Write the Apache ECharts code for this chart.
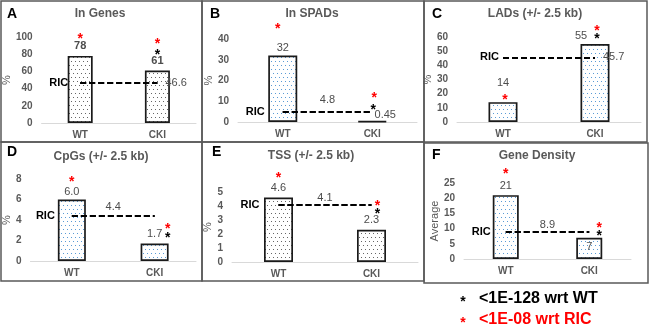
<!DOCTYPE html>
<html>

<head>
    <meta charset="utf-8">
    <script src="https://cdn.jsdelivr.net/npm/echarts@6/dist/echarts.min.js"></script>
    <style>
        html, body { margin: 0; padding: 0; background: #fff; }
        #main { width: 649px; height: 326px; }
    </style>
</head>

<body>
    <div id="main"></div>

    <script>
        // ---- data ----
        const categories = ['WT', 'CKI'];
        const panelLetters = ['A', 'B', 'C', 'D', 'E', 'F'];
        const panelTitles = ['In Genes', 'In SPADs', 'LADs (+/- 2.5 kb)', 'CpGs (+/- 2.5 kb)', 'TSS (+/- 2.5 kb)', 'Gene Density'];
        const yAxisNames = ['%', '%', '%', '%', '%', 'Average'];
        const inGenes = [78, 61];
        const inSpads = [32, 0.45];
        const lads = [14, 55];
        const cpgs = [6.0, 1.7];
        const tss = [4.6, 2.3];
        const geneDensity = [21, 7];
        const ricValues = [46.6, 4.8, 45.7, 4.4, 4.1, 8.9];
        const yMax = [100, 40, 60, 8, 5, 25];
        const yStep = [20, 10, 10, 2, 1, 5];
        // significance marks per bar [WT, CKI]
        const vsWT = [[0, 1], [0, 1], [0, 1], [0, 1], [0, 1], [0, 1]];
        const vsRIC = [[1, 1], [1, 1], [1, 1], [1, 1], [1, 1], [1, 1]];
        const legendTexts = ['<1E-128 wrt WT', '<1E-08 wrt RIC'];

        const panelValues = [inGenes, inSpads, lads, cpgs, tss, geneDensity];

        // ---- layout / style per panel ----
        const layout = [
            { box: [1, 1, 201, 141], grid: { left: 41, right: 453, top: 37, bottom: 203 }, barWidth: 25, dots: '#666666',
              letter: [7, 14], title: [100, 14], nameGap: 28, bold: true,
              valLabel: [{ distance: 4 }, { distance: 4 }],
              redOff: [[0, -17], [0, -26]], blackOff: [null, [0, -15]],
              ricPos: 'end', ricDist: 8, ricTag: 12 },
            { box: [202, 1, 222, 141], grid: { left: 238, right: 232, top: 39, bottom: 204 }, barWidth: 29, dots: '#5b9bd5',
              letter: [210, 14], title: [312, 14], nameGap: 22,
              valLabel: [{ distance: 2 }, { distance: 0, offset: [13, 0] }],
              redOff: [[-5, -26], [2, -23]], blackOff: [null, [1, -11]],
              ricPos: 'insideMiddleTop', ricDist: 7, ricTag: 18 },
            { box: [424, 1, 223, 141], grid: { left: 457, right: 8, top: 37, bottom: 204 }, barWidth: 29, dots: '#5b9bd5',
              letter: [432, 14], title: [535, 14], nameGap: 19,
              valLabel: [{ distance: 14 }, { distance: 3, offset: [-14, 0] }],
              redOff: [[2, -2], [2, -13]], blackOff: [null, [2, -5]],
              ricPos: 'end', ricDist: 8, ricTag: 4 },
            { box: [1, 142, 201, 139], grid: { left: 26, right: 453, top: 179, bottom: 65 }, barWidth: 28, dots: '#5b9bd5',
              letter: [7, 152], title: [101, 157], nameGap: 12, decimals: 1,
              valLabel: [{ distance: 2 }, { distance: 4 }],
              redOff: [[0, -17], [13, -14]], blackOff: [null, [13, -5]],
              ricPos: 'insideMiddleTop', ricDist: 3, ricTag: 17 },
            { box: [202, 142, 222, 139], grid: { left: 232, right: 231, top: 192, bottom: 64 }, barWidth: 29, dots: '#666666',
              letter: [212, 152], title: [311, 156], nameGap: 14,
              valLabel: [{ distance: 4 }, { distance: 4 }],
              redOff: [[0, -19], [6, -24]], blackOff: [null, [6, -16]],
              ricPos: 'insideMiddleTop', ricDist: 1, ricTag: 19 },
            { box: [424, 143, 224, 140], grid: { left: 464, right: 18, top: 183, bottom: 67 }, barWidth: 26, dots: '#5b9bd5',
              letter: [432, 155], title: [537, 156], nameGap: 23,
              valLabel: [{ distance: 4 }, { position: 'insideTop', distance: 4 }],
              redOff: [[0, -21], [10, -10]], blackOff: [null, [10, -2]],
              ricPos: 'insideMiddleTop', ricDist: 1, ricTag: 15 }
        ];

        const FONT = "'Liberation Sans', Arial, sans-serif";
        const GREY = '#595959';

        // dotted fill like the excel pattern
        function dotPattern(color) {
            const c = document.createElement('canvas');
            c.width = 8;
            c.height = 8;
            const g = c.getContext('2d');
            g.fillStyle = '#fff';
            g.fillRect(0, 0, 8, 8);
            g.fillStyle = color;
            [[1, 1], [5, 1], [3, 5], [7, 5]].forEach(d => g.fillRect(d[0], d[1], 1, 1));
            return c;
        }

        function star(cat, value, color, off) {
            return {
                coord: [cat, value],
                label: {
                    show: true, formatter: '*', color: color, fontSize: 14, fontWeight: 'bold',
                    fontFamily: FONT, offset: off
                }
            };
        }

        const grids = [], xAxes = [], yAxes = [], series = [], graphics = [];

        panelValues.forEach((values, p) => {
            const L = layout[p];
            const ric = ricValues[p];
            grids.push(L.grid);
            xAxes.push({
                type: 'category', gridIndex: p, data: categories,
                axisTick: { show: false },
                axisLine: { lineStyle: { color: '#d9d9d9', width: 1 } },
                axisLabel: { color: GREY, fontWeight: 'bold', fontSize: 10, fontFamily: FONT, margin: 7 }
            });
            yAxes.push({
                type: 'value', gridIndex: p, min: 0, max: yMax[p], interval: yStep[p],
                name: yAxisNames[p], nameLocation: 'middle', nameGap: L.nameGap,
                nameTextStyle: { color: GREY, fontSize: 11, fontFamily: FONT },
                splitLine: { show: false },
                axisLine: { show: false },
                axisTick: { show: false },
                axisLabel: { color: GREY, fontWeight: 'bold', fontSize: 10, fontFamily: FONT, margin: 9 }
            });

            const marks = [];
            values.forEach((v, i) => {
                if (vsRIC[p][i]) marks.push(star(categories[i], v, '#ff0000', L.redOff[i]));
                if (vsWT[p][i]) marks.push(star(categories[i], v, '#000', L.blackOff[i]));
            });

            series.push({
                type: 'bar', xAxisIndex: p, yAxisIndex: p, barWidth: L.barWidth,
                data: values.map((v, i) => ({ value: v, label: L.valLabel[i] })),
                itemStyle: {
                    color: { image: dotPattern(L.dots), repeat: 'repeat' },
                    borderColor: '#1a1a1a', borderWidth: 1.7
                },
                label: {
                    show: true, position: 'top', fontSize: 11, fontFamily: FONT,
                    color: '#4d4d4d', fontWeight: L.bold ? 'bold' : 'normal',
                    formatter: d => L.decimals ? d.value.toFixed(L.decimals) : String(d.value)
                },
                markLine: {
                    silent: true, symbol: 'none', animation: false,
                    lineStyle: { type: [6, 3], color: '#000', width: 2 },
                    data: [
                        [{
                            coord: [categories[0], ric],
                            label: { position: 'start', distance: L.ricTag, formatter: 'RIC', color: '#000', fontWeight: 'bold', fontSize: 11, fontFamily: FONT }
                        }, { coord: [categories[1], ric] }],
                        [{
                            coord: [categories[0], ric],
                            label: { position: L.ricPos, distance: L.ricDist, formatter: String(ric), color: '#4d4d4d', fontSize: 11, fontFamily: FONT }
                        }, { coord: [categories[1], ric] }]
                    ]
                },
                markPoint: {
                    silent: true, animation: false, symbol: 'circle', symbolSize: 1,
                    itemStyle: { color: 'rgba(0,0,0,0)' },
                    data: marks
                }
            });

            graphics.push({
                type: 'rect', silent: true,
                shape: { x: L.box[0], y: L.box[1], width: L.box[2], height: L.box[3] },
                style: { fill: 'none', stroke: '#595959', lineWidth: 1.5 }
            });
            graphics.push({
                type: 'text', silent: true, x: L.letter[0], y: L.letter[1],
                style: { text: panelLetters[p], font: 'bold 14px ' + FONT, fill: '#000', align: 'left', verticalAlign: 'middle' }
            });
            graphics.push({
                type: 'text', silent: true, x: L.title[0], y: L.title[1],
                style: { text: panelTitles[p], font: 'bold 12px ' + FONT, fill: GREY, align: 'center', verticalAlign: 'middle' }
            });
        });

        // significance legend
        const legendColors = ['#000', '#ff0000'];
        legendTexts.forEach((t, i) => {
            const y = 299 + i * 21;
            graphics.push({
                type: 'text', silent: true, x: 463, y: y + 3,
                style: { text: '*', font: 'bold 14px ' + FONT, fill: legendColors[i], align: 'center', verticalAlign: 'middle' }
            });
            graphics.push({
                type: 'text', silent: true, x: 479, y: y,
                style: { text: t, font: 'bold 16px ' + FONT, fill: legendColors[i], align: 'left', verticalAlign: 'middle' }
            });
        });

        const myChart = echarts.init(document.getElementById('main'));
        myChart.setOption({
            animation: false,
            backgroundColor: '#fff',
            grid: grids,
            xAxis: xAxes,
            yAxis: yAxes,
            series: series,
            graphic: graphics
        });
    </script>
</body>

</html>
